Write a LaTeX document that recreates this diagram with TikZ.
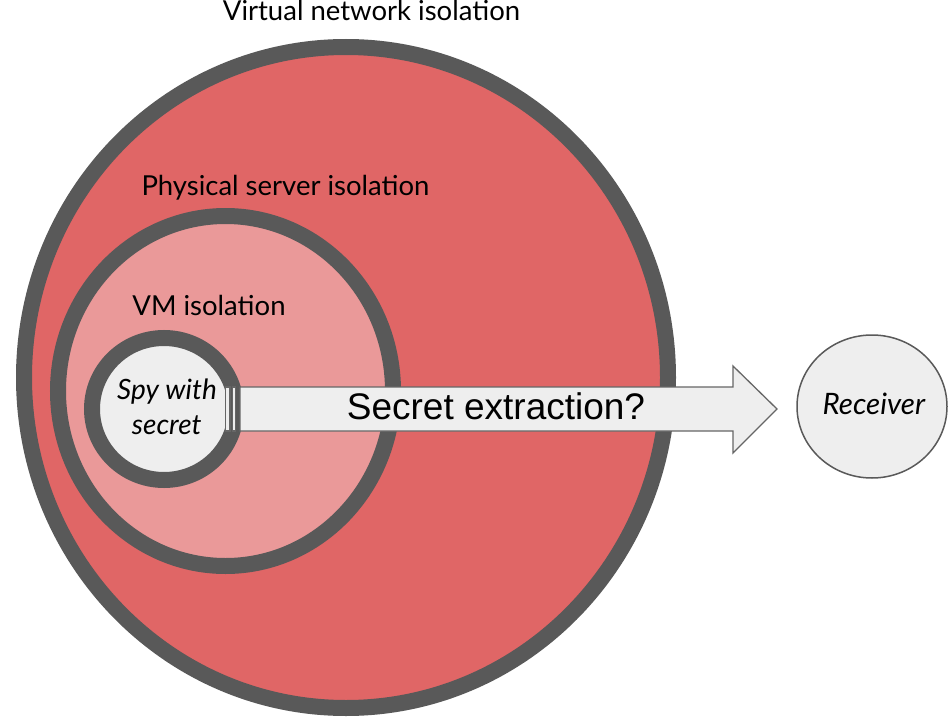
\documentclass[tikz,border=0pt]{standalone}
\usepackage{fontspec}
\setmainfont{Lato}
\newfontfamily\arialfont{Liberation Sans}
\usetikzlibrary{shapes.geometric,shapes.arrows}
\definecolor{bigred}{HTML}{E06666}
\definecolor{midred}{HTML}{EA9999}
\definecolor{ringgrey}{HTML}{595959}
\definecolor{lightgrey}{HTML}{EEEEEE}
\definecolor{edgegrey}{HTML}{666666}
\tikzset{
  ring/.style={draw=ringgrey, line width=16pt},
  lbl/.style={anchor=base, inner sep=0pt, font=\fontsize{27.5}{32}\selectfont},
  ital/.style={anchor=base, inner sep=0pt, font=\fontsize{28}{34}\selectfont\itshape},
  thinedge/.style={draw=edgegrey, line width=1.3pt, fill=lightgrey},
}
\begin{document}
\begin{tikzpicture}[x=1pt,y=-1pt]
\useasboundingbox (0,0) rectangle (951,717);
% rings
\draw[ring, fill=bigred] (346,377.5) ellipse [x radius=322, y radius=330.5];
\draw[ring, fill=midred] (225.5,391) ellipse [x radius=167.5, y radius=175];
\draw[ring, fill=lightgrey] (164,409) ellipse [x radius=72, y radius=71];
% striped arrow
\draw[thinedge, line join=miter] (240,387) -- (733,387) -- (733,366) -- (777,409) -- (733,453) -- (733,431) -- (240,431) -- cycle;
\draw[thinedge] (225.5,387) rectangle (230,431);
\draw[thinedge] (232.5,387) rectangle (235.7,431);
% receiver
\node[ellipse, draw=ringgrey, line width=1.5pt, fill=lightgrey, minimum width=150pt, minimum height=143pt, inner sep=0pt] (recv) at (872,406.5) {};
% labels
\node[lbl] (vni) at (371.5,20.7) {Virtual network isolation};
\node[lbl] (psi) at (285.5,195.7) {Physical server isolation};
\node[lbl] (vmi) at (209,315.5) {VM isolation};
\node[ital] (spy1) at (167,399) {Spy with};
\node[ital] (spy2) at (166.7,434) {secret};
\node[ital, font=\fontsize{29.5}{34}\selectfont\itshape] (recvlbl) at (873.8,414) {Receiver};
\node[anchor=base, inner sep=0pt, font=\arialfont\fontsize{37}{40}\selectfont] (sext) at (496,419.3) {Secret extraction?};
\end{tikzpicture}
\end{document}
